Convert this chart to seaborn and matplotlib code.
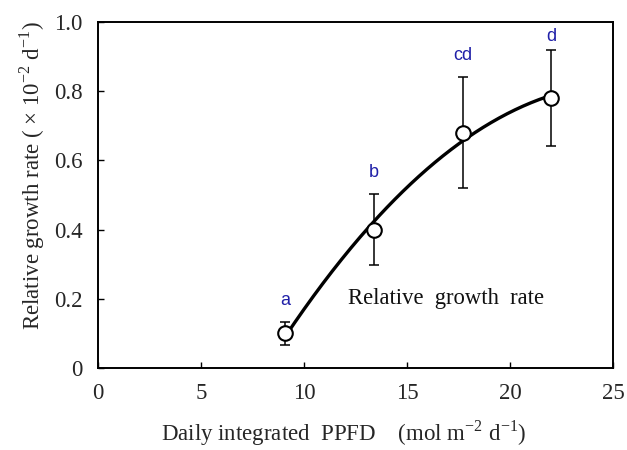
import numpy as np
import pandas as pd
import seaborn as sns
import matplotlib
matplotlib.use("Agg")
import matplotlib.pyplot as plt

# data
ppfd = [9.1, 13.4, 17.7, 22.0]
rgr = [0.10, 0.40, 0.68, 0.78]
err = [0.034, 0.103, 0.160, 0.138]
letters = ["a", "b", "cd", "d"]
xticks = [0, 5, 10, 15, 20, 25]
yticks = [0, 0.2, 0.4, 0.6, 0.8, 1.0]
ytick_labels = ["0", "0.2", "0.4", "0.6", "0.8", "1.0"]

sns.set_theme(style="white")
plt.rcParams["font.family"] = ["Liberation Serif", "DejaVu Serif"]
plt.rcParams["mathtext.fontset"] = "custom"
plt.rcParams["mathtext.rm"] = "Liberation Serif"

fig = plt.figure(figsize=(6.27, 4.5), dpi=100)
ax = fig.add_axes([0.1563, 0.1822, 0.8214, 0.7689])

df = pd.DataFrame({"x": ppfd, "y": rgr})
coef = np.polyfit(ppfd, rgr, 2)
xs = np.linspace(ppfd[0], ppfd[-1], 200)
fit = pd.DataFrame({"x": xs, "y": np.polyval(coef, xs)})

sns.lineplot(data=fit, x="x", y="y", ax=ax, color="black", lw=2.4, zorder=2)
ax.errorbar(ppfd, rgr, yerr=err, fmt="none", ecolor="black", elinewidth=1.1,
            capsize=3.5, capthick=1.1, zorder=1)
sns.scatterplot(data=df, x="x", y="y", ax=ax, s=110, facecolor="white",
                edgecolor="black", linewidth=1.5, zorder=3)

for x, y, e, t in zip(ppfd, rgr, err, letters):
    ly = min(y + e + 0.062, 0.958)
    ax.text(x, ly, t, ha="center", va="center", color="#2020a8",
            fontsize=13, family=["Liberation Sans", "DejaVu Sans"])

ax.text(16.9, 0.2, "Relative  growth  rate", ha="center", va="center",
        fontsize=16.3, color="#111111")

ax.set_xlim(0, 25)
ax.set_ylim(0, 1.0)
ax.set_xticks(xticks)
ax.set_xticklabels([str(v) for v in xticks], fontsize=16.5)
ax.set_yticks(yticks)
ax.set_yticklabels(ytick_labels, fontsize=16.5)
ax.tick_params(axis="both", direction="in", length=4.5, width=1, color="black",
               bottom=True, left=True, top=False, right=False, pad=11)
for s in ax.spines.values():
    s.set_visible(True)
    s.set_color("black")
    s.set_linewidth(1.4)

ax.set_xlabel(r"Daily integrated  PPFD    (mol m$^{\mathregular{-2}}$ d$^{\mathregular{-1}}$)",
              fontsize=16.5, labelpad=10)
ax.set_ylabel(r"Relative growth rate ( $\times$ 10$^{\mathregular{-2}}$ d$^{\mathregular{-1}}$)",
              fontsize=16.5, labelpad=5)
ax.xaxis.label.set_x(0.477)
ax.yaxis.label.set_y(0.555)

fig.savefig("out.png", dpi=100)
